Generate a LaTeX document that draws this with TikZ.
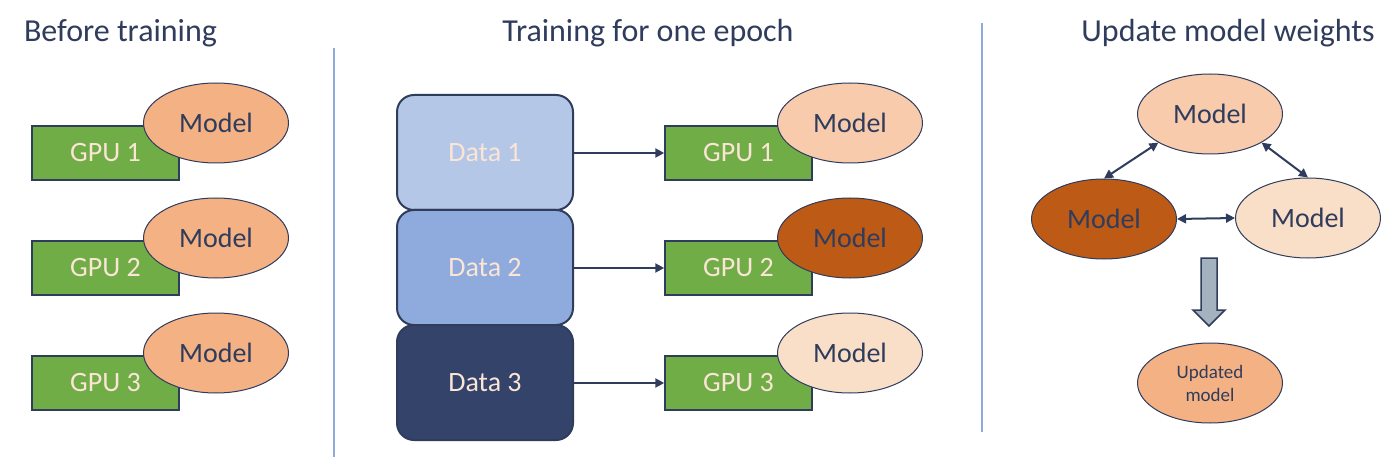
\documentclass[tikz,border=0pt]{standalone}
\usepackage{fontspec}
\setmainfont{Carlito}
\usetikzlibrary{shapes.geometric,arrows.meta}
\definecolor{navy}{HTML}{2F3C5C}
\definecolor{gpugreen}{HTML}{70AD47}
\definecolor{peachtext}{HTML}{FBE5D6}
\definecolor{orangeL}{HTML}{F4B183}
\definecolor{peachdot}{HTML}{F8CBAD}
\definecolor{darkorange}{HTML}{BD5A16}
\definecolor{lightpeach}{HTML}{FADFC8}
\definecolor{dataA}{HTML}{B4C7E7}
\definecolor{dataB}{HTML}{8FAADC}
\definecolor{dataC}{HTML}{33436A}
\definecolor{sepblue}{HTML}{8FAADC}
\definecolor{arrowfill}{HTML}{A3B2BE}
\begin{document}
\begin{tikzpicture}[x=1pt,y=-1pt,
  gpubox/.style={rectangle, draw=navy, line width=1.5pt, fill=gpugreen, minimum width=147pt, minimum height=54pt, inner sep=0pt, text=peachtext, font=\fontsize{28}{34}\selectfont},
  model/.style={ellipse, draw=navy, line width=1pt, minimum width=145pt, minimum height=80pt, inner sep=0pt, text=navy, font=\fontsize{28}{34}\selectfont},
  databox/.style={rectangle, rounded corners=17pt, draw=navy, line width=2pt, minimum width=176pt, minimum height=115pt, inner sep=0pt, text=peachtext, font=\fontsize{28}{34}\selectfont},
  title/.style={anchor=base, text=navy, font=\fontsize{32}{38}\selectfont, inner sep=0pt},
  sepline/.style={draw=sepblue, line width=2pt},
  conn/.style={draw=navy, line width=2pt, -{Triangle[length=9pt,width=9pt]}},
  dconn/.style={draw=navy, line width=2pt, {Triangle[length=9pt,width=9pt]}-{Triangle[length=9pt,width=9pt]}}
]
\useasboundingbox[fill=white] (0,0) rectangle (1400,457);

% titles
\node[title] (t1) at (120.5,42) {Before training};
\node[title] (t2) at (648,42) {Training for one epoch};
\node[title] (t3) at (1228,42) {Update model weights};

% separators
\draw[sepline] (334,48) -- (334,457);
\draw[sepline] (982,23) -- (982,432);

% left section
\node[gpubox] (lg1) at (105.5,153) {GPU 1};
\node[model, fill=orangeL] (lm1) at (216,123) {Model};
\node[gpubox] (lg2) at (105.5,268) {GPU 2};
\node[model, fill=orangeL] (lm2) at (216,238) {Model};
\node[gpubox] (lg3) at (105.5,383) {GPU 3};
\node[model, fill=orangeL] (lm3) at (216,353) {Model};

% middle section
\node[databox, fill=dataA] (d1) at (485,152.5) {Data 1};
\node[databox, fill=dataB] (d2) at (485,267.5) {Data 2};
\node[databox, fill=dataC] (d3) at (485,382.5) {Data 3};

\node[gpubox] (mg1) at (738.5,153) {GPU 1};
\node[model, fill=peachdot] (mm1) at (850,123) {Model};
\node[gpubox] (mg2) at (738.5,268) {GPU 2};
\node[model, fill=darkorange] (mm2) at (850,238) {Model};
\node[gpubox] (mg3) at (738.5,383) {GPU 3};
\node[model, fill=lightpeach] (mm3) at (850,353) {Model};

\draw[conn] (d1.east |- mg1.west) -- (mg1.west);
\draw[conn] (d2.east |- mg2.west) -- (mg2.west);
\draw[conn] (d3.east |- mg3.west) -- (mg3.west);

% right section
\node[model, fill=peachdot] (rt) at (1210,114) {Model};
\node[model, fill=darkorange] (rl) at (1104,219) {Model};
\node[model, fill=lightpeach] (rr) at (1308,218) {Model};
\node[model, fill=orangeL, font=\fontsize{19}{23}\selectfont, align=center] (ru) at (1210,383) {Updated\\model};

\draw[dconn] (rl.north) -- (rt.south west);
\draw[dconn] (rt.south east) -- (rr.north);
\draw[dconn] (rl.east) -- (rr.west);

% block arrow
\draw[navy, line width=1.5pt, fill=arrowfill, line join=miter]
  (1201,258) -- (1217,258) -- (1217,310) -- (1225,310) -- (1209,326)
  -- (1193,310) -- (1201,310) -- cycle;
\end{tikzpicture}
\end{document}
